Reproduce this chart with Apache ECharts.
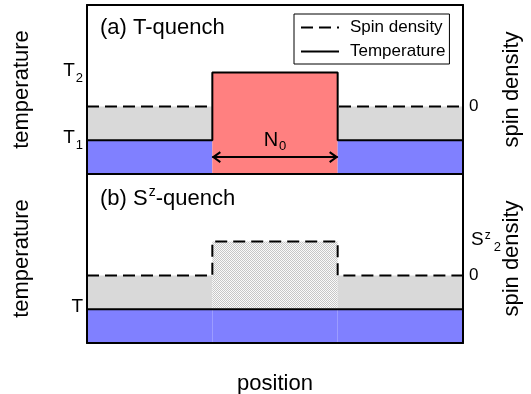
<!DOCTYPE html>
<html>
<head>
<meta charset="utf-8">
<script src="https://cdn.jsdelivr.net/npm/echarts@6/dist/echarts.min.js"></script>
<style>
  html, body { margin: 0; padding: 0; background: #fff; }
  #chart { width: 531px; height: 394px; }
</style>
</head>
<body>
<div id="chart"></div>
<script>
// segment edges along position, quench region is the middle segment
var edges = [0, 1, 2, 3];
// panel (a) T-quench
var tempA = [1, 3, 1];
var spinA = [2, 2, 2];
// panel (b) Sz-quench
var tempB = [1, 1, 1];
var spinB = [2, 3, 2];
// N0 arrow: [from, to, level]
var arrowA = [[1, 2, 0.5]];
// tick labels
var leftTicksA = { 1: 'T1', 3: 'T2' };
var rightTicksA = { 2: '0' };
var leftTicksB = { 1: 'T' };
var rightTicksB = { 2: '0', 3: 'Sz2' };

var FONT = 'Liberation Sans, Arial, Helvetica, sans-serif';
var RED = '#ff8080', BLUE = '#8080ff', GRAY = '#d9d9d9';

// checker pattern for the quenched spin region
var pc = document.createElement('canvas');
pc.width = 2; pc.height = 2;
var pctx = pc.getContext('2d');
pctx.fillStyle = '#fafafa'; pctx.fillRect(0, 0, 2, 2);
pctx.fillStyle = '#c6c6c6'; pctx.fillRect(0, 0, 1, 1); pctx.fillRect(1, 1, 1, 1);
var DOTS = { image: pc, repeat: 'repeat' };

function stepPoints(vals) {
  var pts = [];
  for (var i = 0; i < vals.length; i++) {
    pts.push([edges[i], vals[i]]);
    pts.push([edges[i + 1], vals[i]]);
  }
  return pts;
}

// band between temperature and spin line (gray / dotted)
function bandRects(temp, spin, quenchFill) {
  var r = [];
  for (var i = 0; i < temp.length; i++) {
    if (spin[i] <= temp[i]) continue;
    r.push([edges[i], edges[i + 1], temp[i], spin[i], i === 1 ? quenchFill : GRAY]);
  }
  return r;
}
// area under the temperature line (blue / red)
function tempRects(temp) {
  var r = [];
  for (var i = 0; i < temp.length; i++) {
    r.push([edges[i], edges[i + 1], 0, temp[i], temp[i] > temp[0] ? RED : BLUE]);
  }
  return r;
}

function rectSeries(rects, idx, z) {
  return {
    type: 'custom', xAxisIndex: idx, yAxisIndex: idx, z: z, silent: true,
    data: rects.map(function (r) { return r.slice(0, 4); }),
    renderItem: function (params, api) {
      var p0 = api.coord([api.value(0), api.value(3)]);
      var p1 = api.coord([api.value(1), api.value(2)]);
      return {
        type: 'rect',
        shape: { x: p0[0], y: p0[1], width: p1[0] - p0[0], height: p1[1] - p0[1] },
        style: { fill: rects[params.dataIndex][4] }
      };
    }
  };
}

var rich = {
  m: { fontSize: 19, fontFamily: FONT, color: '#000', lineHeight: 24, padding: [0, 0, 4, 0] },
  ms: { fontSize: 19, fontFamily: FONT, color: '#000', lineHeight: 24, padding: [0, 0, 4, 3] },
  sub: { fontSize: 13, fontFamily: FONT, color: '#000', verticalAlign: 'bottom', lineHeight: 13, padding: [0, 0, 0, 1] },
  sub2: { fontSize: 13, fontFamily: FONT, color: '#000', verticalAlign: 'bottom', lineHeight: 13, padding: [0, 0, 0, 3] },
  sup: { fontSize: 12, fontFamily: FONT, color: '#000', verticalAlign: 'top', lineHeight: 12, padding: [0, 0, 0, 1] },
  z: { fontSize: 17, fontFamily: FONT, color: '#000', padding: [0, 0, 0, 1] }
};

function fmtTick(map) {
  return function (v) {
    var s = map[v];
    if (!s) return '';
    if (s === '0') return '{z|0}';
    if (s === 'Sz2') return '{ms|S}{sup|z}{sub2|2}';
    if (s.length > 1) return '{m|' + s[0] + '}{sub|' + s.slice(1) + '}';
    return '{m|' + s + '}';
  };
}

var axisLine = { show: true, onZero: false, lineStyle: { color: '#000', width: 2 } };
function xAx(grid, pos, extra) {
  var a = {
    type: 'value', gridIndex: grid, position: pos, min: 0, max: 3, z: 10,
    axisLine: axisLine, axisTick: { show: false }, axisLabel: { show: false }, splitLine: { show: false }
  };
  return Object.assign(a, extra || {});
}
function yAx(grid, pos, ticks, name, gap) {
  return {
    type: 'value', gridIndex: grid, position: pos, min: 0, max: 5, interval: 1, z: 10,
    axisLine: axisLine, axisTick: { show: false }, splitLine: { show: false },
    axisLabel: { show: true, margin: pos === 'left' ? 4 : 5, formatter: fmtTick(ticks), rich: rich },
    name: name, nameLocation: 'middle', nameRotate: 90, nameGap: gap, nameMoveOverlap: false,
    nameTextStyle: { fontSize: 22, fontFamily: FONT, color: '#000' }
  };
}

var chart = echarts.init(document.getElementById('chart'));
chart.setOption({
  animation: false,
  textStyle: { fontFamily: FONT },
  title: [
    { text: '(a) T-quench', left: 95, top: 12, textStyle: { fontSize: 22, fontWeight: 'normal', fontFamily: FONT, color: '#000' } },
    { text: '{t|(b) S}{s|z}{t|-quench}', left: 95, top: 180,
      textStyle: { fontWeight: 'normal', rich: {
        t: { fontSize: 22, fontFamily: FONT, fontWeight: 'normal', color: '#000', lineHeight: 28 },
        s: { fontSize: 14, fontFamily: FONT, fontWeight: 'normal', color: '#000', verticalAlign: 'top', lineHeight: 14, padding: [0, 0, 0, 1] }
      } } }
  ],
  legend: {
    left: 294, top: 14, orient: 'vertical',
    data: ['Spin density', 'Temperature'],
    itemWidth: 38, itemHeight: 14, itemGap: 7,
    padding: [5, 4, 4, 6],
    borderColor: '#000', borderWidth: 1, borderRadius: 0,
    backgroundColor: '#fff',
    itemStyle: { opacity: 0 },
    textStyle: { fontSize: 17, fontFamily: FONT, color: '#000', padding: [0, 0, 0, 6] }
  },
  grid: [
    { left: 87, top: 5, width: 376, height: 169, outerBoundsMode: 'none' },
    { left: 87, top: 174, width: 376, height: 169, outerBoundsMode: 'none' }
  ],
  xAxis: [
    xAx(0, 'bottom'), xAx(0, 'top'),
    xAx(1, 'bottom', { name: 'position', nameLocation: 'middle', nameGap: 30,
      nameTextStyle: { fontSize: 22, fontFamily: FONT, color: '#000' } }),
    xAx(1, 'top')
  ],
  yAxis: [
    yAx(0, 'left', leftTicksA, 'temperature', 54), yAx(0, 'right', rightTicksA, 'spin density', 38),
    yAx(1, 'left', leftTicksB, 'temperature', 54), yAx(1, 'right', rightTicksB, 'spin density', 38)
  ],
  series: [
    rectSeries(bandRects(tempA, spinA, DOTS), 0, 1),
    rectSeries(bandRects(tempB, spinB, DOTS), 2, 1),
    { type: 'line', name: 'Spin density', xAxisIndex: 0, yAxisIndex: 0, z: 2, symbol: 'none',
      data: stepPoints(spinA), lineStyle: { color: '#000', width: 2, type: [12, 6] }, itemStyle: { color: '#000' } },
    { type: 'line', name: 'Spin density', xAxisIndex: 2, yAxisIndex: 2, z: 2, symbol: 'none',
      data: stepPoints(spinB), lineStyle: { color: '#000', width: 2, type: [12, 6] }, itemStyle: { color: '#000' } },
    rectSeries(tempRects(tempA), 0, 3),
    rectSeries(tempRects(tempB), 2, 3),
    { type: 'line', name: 'Temperature', xAxisIndex: 0, yAxisIndex: 0, z: 4, symbol: 'none',
      data: stepPoints(tempA), lineStyle: { color: '#000', width: 2 }, itemStyle: { color: '#000' } },
    { type: 'line', name: 'Temperature', xAxisIndex: 2, yAxisIndex: 2, z: 4, symbol: 'none',
      data: stepPoints(tempB), lineStyle: { color: '#000', width: 2 }, itemStyle: { color: '#000' } },
    {
      type: 'custom', xAxisIndex: 0, yAxisIndex: 0, z: 5, silent: true,
      data: arrowA,
      renderItem: function (params, api) {
        var a = api.coord([api.value(0), api.value(2)]);
        var b = api.coord([api.value(1), api.value(2)]);
        var st = { stroke: '#000', lineWidth: 2, fill: null };
        return {
          type: 'group',
          children: [
            { type: 'line', shape: { x1: a[0], y1: a[1], x2: b[0], y2: b[1] }, style: st },
            { type: 'polyline', shape: { points: [[a[0] + 8, a[1] - 5], [a[0] + 1, a[1]], [a[0] + 8, a[1] + 5]] }, style: st },
            { type: 'polyline', shape: { points: [[b[0] - 8, b[1] - 5], [b[0] - 1, b[1]], [b[0] - 8, b[1] + 5]] }, style: st },
            { type: 'text', x: (a[0] + b[0]) / 2, y: a[1] - 15,
              style: { text: '{m|N}{s|0}', align: 'center', verticalAlign: 'middle',
                rich: {
                  m: { fontSize: 20, fontFamily: FONT, fill: '#000', lineHeight: 22, padding: [0, 0, 3, 0] },
                  s: { fontSize: 13, fontFamily: FONT, fill: '#000', verticalAlign: 'bottom', lineHeight: 13, padding: [0, 0, 0, 1] }
                } } }
          ]
        };
      }
    }
  ]
});
</script>
</body>
</html>
